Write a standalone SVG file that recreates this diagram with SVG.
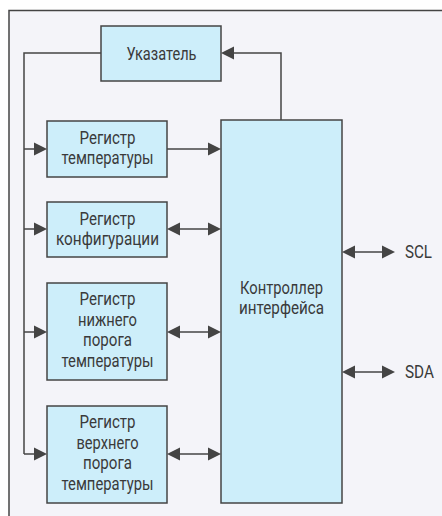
<svg xmlns="http://www.w3.org/2000/svg" width="442" height="516" viewBox="0 0 442 516">
<style>
.box{fill:#cdeefa;stroke:#444;stroke-width:1.5}
.ln{fill:none;stroke:#444;stroke-width:1.5}
.ah{fill:#444}
.t{font-family:Roboto,"Liberation Sans",sans-serif;font-size:18px;fill:#3a3a3a;text-anchor:middle}
.s{text-anchor:start}
</style>
<defs>
<path id="hr" class="ah" d="M-13,-6.5 L0,0 L-13,6.5 z"/>
<path id="hl" class="ah" d="M13,-6.5 L0,0 L13,6.5 z"/>
</defs>
<rect width="442" height="516" fill="#fff"/>
<rect x="9" y="10.5" width="445" height="520" fill="#f4f4f9" stroke="#444" stroke-width="1.5"/>
<g id="connectors">
<path class="ln" d="M101,53 H24 V454"/>
<path class="ln" d="M24,149 H40"/><use href="#hr" x="47" y="149"/>
<path class="ln" d="M24,229 H40"/><use href="#hr" x="47" y="229"/>
<path class="ln" d="M24,332 H40"/><use href="#hr" x="47" y="332"/>
<path class="ln" d="M24,454 H40"/><use href="#hr" x="47" y="454"/>
<path class="ln" d="M281,120 V53 H228"/><use href="#hl" x="221" y="53"/>
<path class="ln" d="M167,149 H214"/><use href="#hr" x="221" y="149"/>
<path class="ln" d="M174,229 H214"/><use href="#hl" x="167" y="229"/><use href="#hr" x="221" y="229"/>
<path class="ln" d="M174,332 H214"/><use href="#hl" x="167" y="332"/><use href="#hr" x="221" y="332"/>
<path class="ln" d="M174,454 H214"/><use href="#hl" x="167" y="454"/><use href="#hr" x="221" y="454"/>
<path class="ln" d="M349,252 H388"/><use href="#hl" x="342" y="252"/><use href="#hr" x="395" y="252"/>
<path class="ln" d="M349,372 H388"/><use href="#hl" x="342" y="372"/><use href="#hr" x="395" y="372"/>
</g>
<g id="pointer">
<rect class="box" x="101" y="26" width="120" height="55"/>
<text class="t" x="161.5" y="60" textLength="70" lengthAdjust="spacingAndGlyphs">Указатель</text>
</g>
<g id="reg-temp">
<rect class="box" x="47" y="121" width="120" height="56"/>
<text class="t" x="107.5" y="144" textLength="56" lengthAdjust="spacingAndGlyphs">Регистр</text>
<text class="t" x="107.5" y="164" textLength="92" lengthAdjust="spacingAndGlyphs">температуры</text>
</g>
<g id="reg-config">
<rect class="box" x="47" y="202" width="120" height="55"/>
<text class="t" x="107.5" y="225" textLength="56" lengthAdjust="spacingAndGlyphs">Регистр</text>
<text class="t" x="107.5" y="245" textLength="103" lengthAdjust="spacingAndGlyphs">конфигурации</text>
</g>
<g id="reg-low">
<rect class="box" x="47" y="283" width="120" height="97"/>
<text class="t" x="107.5" y="305" textLength="56" lengthAdjust="spacingAndGlyphs">Регистр</text>
<text class="t" x="107.5" y="326" textLength="59" lengthAdjust="spacingAndGlyphs">нижнего</text>
<text class="t" x="107.5" y="346" textLength="49" lengthAdjust="spacingAndGlyphs">порога</text>
<text class="t" x="107.5" y="367" textLength="92" lengthAdjust="spacingAndGlyphs">температуры</text>
</g>
<g id="reg-high">
<rect class="box" x="47" y="406" width="120" height="97"/>
<text class="t" x="107.5" y="428" textLength="56" lengthAdjust="spacingAndGlyphs">Регистр</text>
<text class="t" x="107.5" y="449" textLength="62" lengthAdjust="spacingAndGlyphs">верхнего</text>
<text class="t" x="107.5" y="469" textLength="49" lengthAdjust="spacingAndGlyphs">порога</text>
<text class="t" x="107.5" y="490" textLength="92" lengthAdjust="spacingAndGlyphs">температуры</text>
</g>
<g id="controller">
<rect class="box" x="221" y="120" width="121" height="383"/>
<text class="t" x="281.5" y="294" textLength="83" lengthAdjust="spacingAndGlyphs">Контроллер</text>
<text class="t" x="281.5" y="314" textLength="85" lengthAdjust="spacingAndGlyphs">интерфейса</text>
</g>
<g id="scl">
<text class="t s" x="405" y="258" textLength="27" lengthAdjust="spacingAndGlyphs">SCL</text>
</g>
<g id="sda">
<text class="t s" x="405" y="378" textLength="29" lengthAdjust="spacingAndGlyphs">SDA</text>
</g>
</svg>
